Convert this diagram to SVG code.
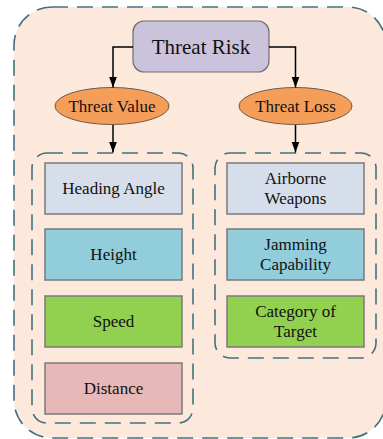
<svg xmlns="http://www.w3.org/2000/svg" width="383" height="439" viewBox="0 0 383 439">
<defs>
<marker id="arr" markerWidth="12" markerHeight="10" refX="11" refY="5" orient="auto" markerUnits="userSpaceOnUse">
<path d="M0,1 L11,5 L0,9 Z" fill="#000"/>
</marker>
<style>
.t{fill:#111;text-anchor:middle}
.dash{fill:none;stroke:#41717f;stroke-width:1.6;stroke-dasharray:16 9}
.box{stroke:#7a7a7a;stroke-width:1.5}
.ell{fill:#f59e5a;stroke:#6b5a4a;stroke-width:1}
.lbl{font-size:17px}
.conn{fill:none;stroke:#000;stroke-width:1.5;marker-end:url(#arr)}
</style>
</defs>
<rect x="14" y="7" width="372" height="431" rx="38" class="dash" style="fill:#fce9dc"/>
<rect x="32" y="153" width="161" height="270" rx="15" class="dash"/>
<rect x="215" y="153" width="161" height="205" rx="15" class="dash"/>
<g font-family="'Liberation Serif', 'Times New Roman', serif">
<g id="threat-risk">
<rect x="133" y="21" width="136" height="51" rx="11" fill="#cbc3dc" stroke="#6e6e6e" stroke-width="1.2"/>
<text x="201" y="53.5" font-size="21" class="t">Threat Risk</text>
</g>
<g id="threat-value">
<ellipse cx="112" cy="106" rx="57" ry="18.5" class="ell"/>
<text x="112" y="112" class="t lbl">Threat Value</text>
</g>
<g id="threat-loss">
<ellipse cx="295.5" cy="106" rx="56.5" ry="18.5" class="ell"/>
<text x="295.5" y="112" class="t lbl">Threat Loss</text>
</g>
<g id="heading-angle">
<rect x="45" y="163" width="137" height="51" fill="#d5deea" class="box"/>
<text x="113.5" y="194" class="t lbl">Heading Angle</text>
</g>
<g id="height">
<rect x="45" y="229" width="137" height="51" fill="#92cddb" class="box"/>
<text x="113.5" y="260" class="t lbl">Height</text>
</g>
<g id="speed">
<rect x="45" y="296" width="137" height="51" fill="#92d050" class="box"/>
<text x="113.5" y="327" class="t lbl">Speed</text>
</g>
<g id="distance">
<rect x="45" y="363" width="137" height="51" fill="#e6b8b7" class="box"/>
<text x="113.5" y="394" class="t lbl">Distance</text>
</g>
<g id="airborne-weapons">
<rect x="227" y="163" width="137" height="51" fill="#d5deea" class="box"/>
<text x="295.5" y="184" class="t lbl">Airborne</text>
<text x="295.5" y="204" class="t lbl">Weapons</text>
</g>
<g id="jamming-capability">
<rect x="227" y="229" width="137" height="51" fill="#92cddb" class="box"/>
<text x="295.5" y="250" class="t lbl">Jamming</text>
<text x="295.5" y="270" class="t lbl">Capability</text>
</g>
<g id="category-of-target">
<rect x="227" y="296" width="137" height="51" fill="#92d050" class="box"/>
<text x="295.5" y="317" class="t lbl">Category of</text>
<text x="295.5" y="337" class="t lbl">Target</text>
</g>
</g>
<g id="connectors">
<path d="M133,47 H113 V87.5" class="conn"/>
<path d="M269,47 H295.5 V87.5" class="conn"/>
<path d="M113,125 V152.5" class="conn"/>
<path d="M295.5,125 V152.5" class="conn"/>
</g>
</svg>
